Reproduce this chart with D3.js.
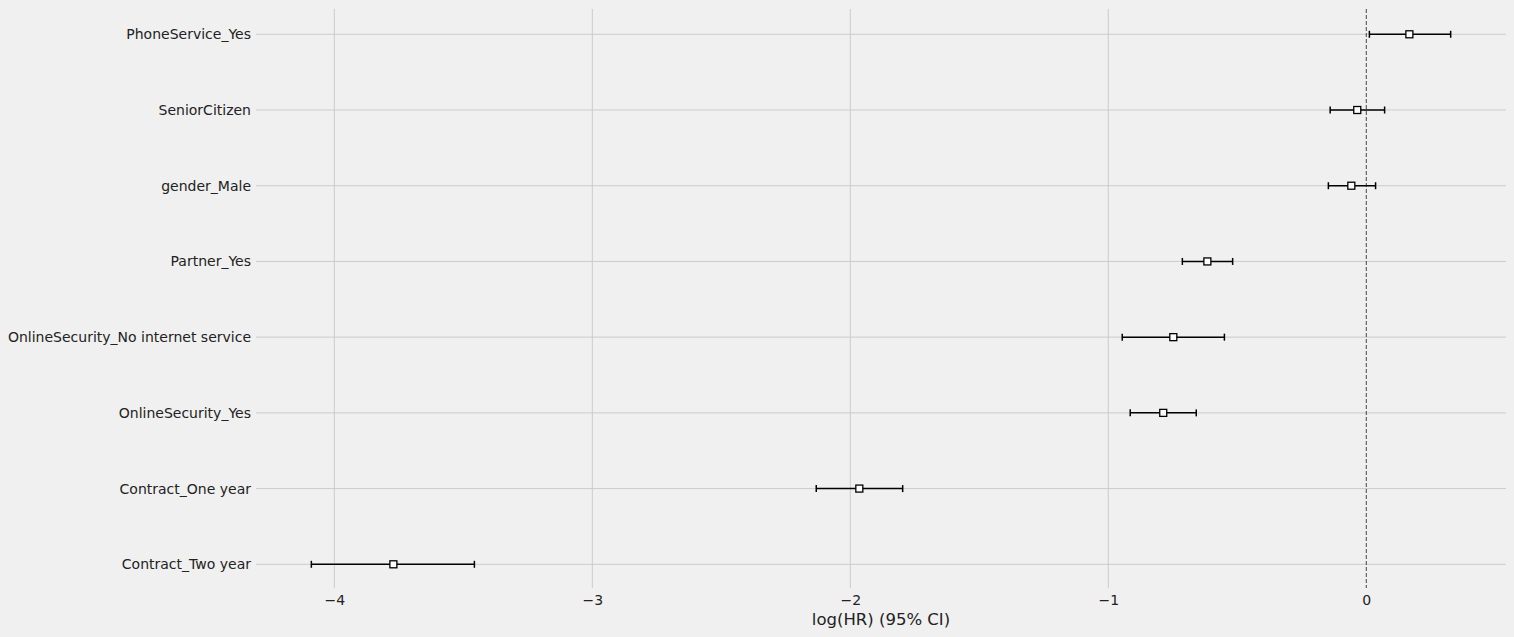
<!DOCTYPE html>
<html>
<head>
<meta charset="utf-8">
<script src="https://cdn.jsdelivr.net/npm/d3@7"></script>
<style>
  html, body { margin: 0; padding: 0; background: #f0f0f0; }
  svg { display: block; }
  text { font-family: "DejaVu Sans", sans-serif; fill: #222; }
</style>
</head>
<body>
<svg id="chart" width="1514" height="637"></svg>
<script>
// Covariates, bottom to top
const covariates = [
  "Contract_Two year",
  "Contract_One year",
  "OnlineSecurity_Yes",
  "OnlineSecurity_No internet service",
  "Partner_Yes",
  "gender_Male",
  "SeniorCitizen",
  "PhoneService_Yes"
];
const coef  = [-3.771, -1.965, -0.787, -0.748, -0.616, -0.058, -0.035, 0.167];
const lower = [-4.089, -2.132, -0.915, -0.946, -0.713, -0.147, -0.140, 0.012];
const upper = [-3.457, -1.797, -0.659, -0.550, -0.518,  0.036,  0.071, 0.327];
const xTicks = [-4, -3, -2, -1, 0];
const xLabel = "log(HR) (95% CI)";

const svg = d3.select("#chart");
const margin = {left: 256, right: 8, top: 9, bottom: 49};
const W = 1514, H = 637;

const x = d3.scaleLinear().domain([-4.3035, 0.5415]).range([margin.left, W - margin.right]);
const y = d3.scaleLinear().domain([-0.313, covariates.length - 1 + 0.334]).range([H - margin.bottom, margin.top]);

const data = covariates.map((c, i) => ({name: c, i, coef: coef[i], lo: lower[i], hi: upper[i]}));

// vertical grid
svg.append("g").selectAll("line").data(xTicks.filter(t => t !== 0)).join("line")
  .attr("x1", d => x(d)).attr("x2", d => x(d))
  .attr("y1", y.range()[1]).attr("y2", y.range()[0])
  .attr("stroke", "#cbcbcb").attr("stroke-width", 1);

// horizontal grid
svg.append("g").selectAll("line").data(data).join("line")
  .attr("x1", x.range()[0]).attr("x2", x.range()[1])
  .attr("y1", d => y(d.i)).attr("y2", d => y(d.i))
  .attr("stroke", "#cbcbcb").attr("stroke-width", 1);

// zero reference line
svg.append("line")
  .attr("x1", x(0)).attr("x2", x(0))
  .attr("y1", y.range()[1]).attr("y2", y.range()[0])
  .attr("stroke", "#444").attr("stroke-width", 1)
  .attr("stroke-dasharray", "4,2");

// x tick labels
const xAxis = d3.axisBottom(x).tickValues(xTicks).tickSize(0).tickPadding(7)
  .tickFormat(d => d3.format("d")(d).replace("-", "\u2212"));
const gx = svg.append("g").attr("transform", `translate(0,${H - margin.bottom})`).call(xAxis);
gx.select(".domain").remove();
gx.selectAll("text").attr("font-size", 14).attr("font-family", "DejaVu Sans").attr("fill", "#111");

// y tick labels
const yAxis = d3.axisLeft(y).tickValues(data.map(d => d.i)).tickSize(0).tickPadding(5)
  .tickFormat(i => covariates[i]);
const gy = svg.append("g").attr("transform", `translate(${margin.left},0)`).call(yAxis);
gy.select(".domain").remove();
gy.selectAll("text").attr("font-size", 14).attr("font-family", "DejaVu Sans").attr("fill", "#111");

// error bars
const eb = svg.append("g");
eb.selectAll("line.ci").data(data).join("line").attr("class", "ci")
  .attr("x1", d => x(d.lo)).attr("x2", d => x(d.hi))
  .attr("y1", d => y(d.i)).attr("y2", d => y(d.i))
  .attr("stroke", "#000").attr("stroke-width", 1.5);
eb.selectAll("line.capl").data(data).join("line").attr("class", "capl")
  .attr("x1", d => x(d.lo)).attr("x2", d => x(d.lo))
  .attr("y1", d => y(d.i) - 3.5).attr("y2", d => y(d.i) + 3.5)
  .attr("stroke", "#000").attr("stroke-width", 1.5);
eb.selectAll("line.caph").data(data).join("line").attr("class", "caph")
  .attr("x1", d => x(d.hi)).attr("x2", d => x(d.hi))
  .attr("y1", d => y(d.i) - 3.5).attr("y2", d => y(d.i) + 3.5)
  .attr("stroke", "#000").attr("stroke-width", 1.5);
eb.selectAll("rect").data(data).join("rect")
  .attr("x", d => x(d.coef) - 3.5).attr("y", d => y(d.i) - 3.5)
  .attr("width", 7).attr("height", 7)
  .attr("fill", "#fff").attr("stroke", "#000").attr("stroke-width", 1.3);

// x label
svg.append("text")
  .attr("x", (x.range()[0] + x.range()[1]) / 2).attr("y", 625)
  .attr("text-anchor", "middle").attr("font-size", 16.5).attr("fill", "#111")
  .text(xLabel);
</script>
</body>
</html>
